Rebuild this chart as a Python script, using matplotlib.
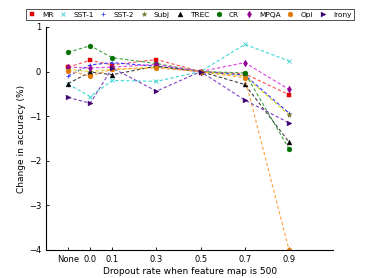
import matplotlib
matplotlib.use("Agg")
import matplotlib.pyplot as plt

x_labels = ["None", "0.0", "0.1", "0.3", "0.5", "0.7", "0.9"]
x_pos = [-0.1, 0.0, 0.1, 0.3, 0.5, 0.7, 0.9]

MR    = [0.10, 0.25, 0.15, 0.27, 0.0, -0.05, -0.52]
SST1  = [-0.28, -0.56, -0.20, -0.22, 0.0, 0.61, 0.24]
SST2  = [-0.10, 0.15, 0.20, 0.12, 0.0, -0.08, -0.93]
Subj  = [0.05, 0.00, 0.05, 0.10, 0.0, -0.10, -0.97]
TREC  = [-0.27, -0.01, -0.07, 0.12, 0.0, -0.29, -1.58]
CR    = [0.43, 0.58, 0.31, 0.18, 0.0, -0.03, -1.73]
MPQA  = [0.10, 0.08, 0.10, 0.16, 0.0, 0.20, -0.40]
Opi   = [0.02, -0.10, 0.05, 0.08, 0.0, -0.14, -4.0]
Irony = [-0.58, -0.71, 0.08, -0.44, 0.0, -0.64, -1.15]

series = [
    ("MR", MR, "s", "#e00000", "#ff5050"),
    ("SST-1", SST1, "x", "#30d0d0", "#40d8d8"),
    ("SST-2", SST2, "+", "#4040ff", "#3030ff"),
    ("Subj", Subj, "*", "#707020", "#d8d020"),
    ("TREC", TREC, "^", "#000000", "#404040"),
    ("CR", CR, "o", "#007000", "#40a040"),
    ("MPQA", MPQA, "d", "#900090", "#e040e0"),
    ("Opi", Opi, "o", "#e07800", "#ffa040"),
    ("Irony", Irony, ">", "#3c0070", "#8040c0"),
]

fig = plt.figure(figsize=(3.71, 2.78), dpi=100)
ax = fig.add_axes([0.124, 0.101, 0.774, 0.802])

handles = []
for name, vals, mk, mc, lc in series:
    ax.plot(x_pos, vals, linestyle="--", color=lc, linewidth=0.8, dashes=(3, 2))
    h, = ax.plot(x_pos, vals, linestyle="none", marker=mk, markersize=3.5,
                 markerfacecolor=mc, markeredgecolor=mc,
                 markeredgewidth=0.6 if mk in ("x", "+") else 0.3, label=name)
    handles.append(h)

ax.set_xlim(-0.2, 1.1)
ax.set_ylim(-4, 1)
ax.set_xticks(x_pos)
ax.set_xticklabels(x_labels)
ax.set_yticks([1, 0, -1, -2, -3, -4])
ax.set_yticklabels(["1", "0", "\u22121", "\u22122", "\u22123", "\u22124"])
ax.tick_params(direction="in", labelsize=6, length=2.5, width=0.6)
for s in ("top", "right"):
    ax.spines[s].set_visible(False)
for s in ("left", "bottom"):
    ax.spines[s].set_linewidth(0.8)
ax.set_xlabel("Dropout rate when feature map is 500", fontsize=6.5, labelpad=2)
ax.set_ylabel("Change in accuracy (%)", fontsize=6.5, labelpad=2)

leg = fig.legend(handles=handles, loc="center", ncol=9, bbox_to_anchor=(0.512, 0.948),
                 fontsize=5.3, frameon=True, fancybox=False, edgecolor="black",
                 handlelength=0.8, handletextpad=1.0, columnspacing=0.9, borderpad=0.3,
                 borderaxespad=0.0, numpoints=1)
leg.get_frame().set_linewidth(0.6)

fig.savefig("out.png", dpi=100)
